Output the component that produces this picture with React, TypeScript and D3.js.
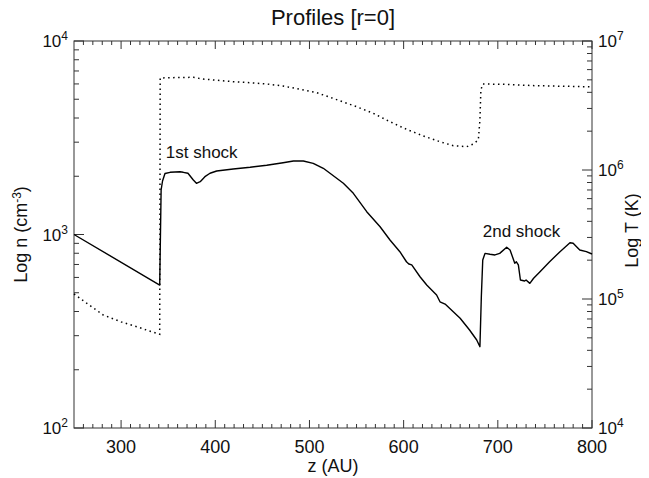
import * as d3 from 'd3';
import { useRef, useEffect } from 'react';

// density profile (left axis, cm^-3)
const densZ = [250, 341, 342.5, 344, 346.6, 352, 362.5, 366, 371, 376.7, 380, 384, 389, 394.4, 401.5, 419, 437, 454.6, 472, 483, 493.5, 504, 514.7, 521.8, 536, 546.6, 560.8, 575, 585.5, 596, 603, 605.5, 608.6, 617.4, 624.5, 635, 638.6, 644, 652.7, 660, 670, 677.6, 681, 682.5, 684, 686.4, 691.7, 697, 702, 709.4, 713, 718, 719.7, 721.8, 724, 728.5, 730, 734, 738, 744.8, 755, 766, 776.6, 780, 787, 794, 800];
const densN = [1000, 548, 1698, 1890, 2067, 2096, 2111, 2096, 2072, 1913, 1839, 1875, 1990, 2072, 2129, 2181, 2225, 2279, 2350, 2398, 2398, 2333, 2199, 2072, 1839, 1633, 1312, 1097, 937, 815, 723, 704, 696, 605, 548, 487, 449, 437, 399, 369, 321, 285, 263, 477, 738, 799, 790, 784, 799, 859, 832, 710, 723, 696, 582, 575, 582, 559, 594, 642, 723, 815, 907, 901, 832, 815, 793];

// temperature profile (right axis, K)
const tempZ = [250, 266, 281, 300, 316.6, 330, 341, 341.5, 360, 376.7, 387, 419, 437, 454.6, 472, 490, 507.7, 525, 539.6, 550, 567.8, 585.5, 603, 621, 638.6, 652.7, 667, 674, 679.3, 681, 682, 684, 706.7, 740, 794, 800];
const tempT = [109400, 90000, 75200, 66500, 61000, 56500, 53260, 5170000, 5210000, 5230000, 5075000, 4836000, 4750000, 4642000, 4480000, 4223000, 3974000, 3596000, 3290000, 3095000, 2751000, 2368000, 2068000, 1835000, 1657000, 1543000, 1516000, 1591000, 1709000, 2441000, 4171000, 4642000, 4617000, 4503000, 4423000, 4400000];

const xTicks = [300, 400, 500, 600, 700, 800];
const nDecades = [2, 3, 4];
const tDecades = [4, 5, 6, 7];

const App = () => {
  const ref = useRef<SVGSVGElement>(null);
  const width = 649;
  const height = 478;
  const margin = { top: 41, right: 57, bottom: 50, left: 74 };

  useEffect(() => {
    const w = width - margin.left - margin.right;
    const h = height - margin.top - margin.bottom;
    const font = 'Liberation Sans, Arial, Helvetica, sans-serif';
    const axisColor = '#333';

    const x = d3.scaleLinear().domain([250, 800]).range([0, w]);
    const yN = d3.scaleLog().domain([100, 10000]).range([h, 0]);
    const yT = d3.scaleLog().domain([1e4, 1e7]).range([h, 0]);

    const root = d3.select(ref.current);
    root.selectAll('*').remove();
    root.append('rect').attr('width', width).attr('height', height).attr('fill', '#fff');

    const svg = root.append('g').attr('transform', `translate(${margin.left},${margin.top})`);

    // frame
    svg.append('rect')
      .attr('width', w)
      .attr('height', h)
      .attr('fill', 'none')
      .attr('stroke', axisColor)
      .attr('stroke-width', 1);

    // x ticks, bottom and top
    const minorX = d3.range(260, 800, 10).filter((v) => v % 100 !== 0);
    const tickG = svg.append('g').attr('stroke', axisColor).attr('stroke-width', 1);
    minorX.forEach((v) => {
      tickG.append('line').attr('x1', x(v)).attr('x2', x(v)).attr('y1', h).attr('y2', h - 4);
      tickG.append('line').attr('x1', x(v)).attr('x2', x(v)).attr('y1', 0).attr('y2', 4);
    });
    xTicks.forEach((v) => {
      tickG.append('line').attr('x1', x(v)).attr('x2', x(v)).attr('y1', h).attr('y2', h - 8);
      tickG.append('line').attr('x1', x(v)).attr('x2', x(v)).attr('y1', 0).attr('y2', 8);
    });

    // y ticks, left (density) and right (temperature)
    const logTicks = (decades: number[]) =>
      decades.slice(0, -1).flatMap((k) => d3.range(2, 10).map((m) => m * Math.pow(10, k)));
    logTicks(nDecades).forEach((v) => {
      tickG.append('line').attr('x1', 0).attr('x2', 5).attr('y1', yN(v)).attr('y2', yN(v));
    });
    nDecades.forEach((k) => {
      const v = Math.pow(10, k);
      tickG.append('line').attr('x1', 0).attr('x2', 10).attr('y1', yN(v)).attr('y2', yN(v));
    });
    logTicks(tDecades).forEach((v) => {
      tickG.append('line').attr('x1', w).attr('x2', w - 5).attr('y1', yT(v)).attr('y2', yT(v));
    });
    tDecades.forEach((k) => {
      const v = Math.pow(10, k);
      tickG.append('line').attr('x1', w).attr('x2', w - 10).attr('y1', yT(v)).attr('y2', yT(v));
    });

    // tick labels
    const labels = svg.append('g').attr('font-family', font).attr('fill', '#111');
    xTicks.forEach((v) => {
      labels.append('text')
        .attr('x', x(v))
        .attr('y', h + 25)
        .attr('text-anchor', 'middle')
        .attr('font-size', 18)
        .text(v);
    });
    const powLabel = (px: number, py: number, k: number, anchor: string) => {
      const t = labels.append('text')
        .attr('x', px)
        .attr('y', py)
        .attr('text-anchor', anchor)
        .attr('font-size', 17);
      t.append('tspan').text('10');
      t.append('tspan').attr('dy', -7).attr('font-size', 12).text(String(k));
    };
    nDecades.forEach((k) => powLabel(-6, yN(Math.pow(10, k)) + 6, k, 'end'));
    tDecades.forEach((k) => powLabel(w + 6, yT(Math.pow(10, k)) + 6, k, 'start'));

    // axis titles
    labels.append('text')
      .attr('x', w / 2)
      .attr('y', h + 44)
      .attr('text-anchor', 'middle')
      .attr('font-size', 18)
      .text('z (AU)');
    const yl = labels.append('text')
      .attr('transform', `translate(${-47},${h / 2}) rotate(-90)`)
      .attr('text-anchor', 'middle')
      .attr('font-size', 18);
    yl.append('tspan').text('Log n (cm');
    yl.append('tspan').attr('dy', -6).attr('font-size', 12).text('-3');
    yl.append('tspan').attr('dy', 6).text(')');
    labels.append('text')
      .attr('transform', `translate(${w + 46},${h / 2 - 4}) rotate(-90)`)
      .attr('text-anchor', 'middle')
      .attr('font-size', 18)
      .text('Log T (K)');

    // title
    labels.append('text')
      .attr('x', w / 2)
      .attr('y', -16)
      .attr('text-anchor', 'middle')
      .attr('font-size', 22)
      .text('Profiles [r=0]');

    // lines
    const dens = densZ.map((z, i) => ({ z, v: densN[i] }));
    const temp = tempZ.map((z, i) => ({ z, v: tempT[i] }));

    const lineN = d3.line<{ z: number; v: number }>()
      .x((d) => x(d.z))
      .y((d) => yN(d.v));
    const lineT = d3.line<{ z: number; v: number }>()
      .x((d) => x(d.z))
      .y((d) => yT(d.v));

    svg.append('path')
      .datum(temp)
      .attr('fill', 'none')
      .attr('stroke', '#000')
      .attr('stroke-width', 1.5)
      .attr('stroke-dasharray', '1.5 3.5')
      .attr('d', lineT);

    svg.append('path')
      .datum(dens)
      .attr('fill', 'none')
      .attr('stroke', '#000')
      .attr('stroke-width', 1.4)
      .attr('stroke-linejoin', 'round')
      .attr('d', lineN);

    // annotations
    labels.append('text')
      .attr('x', x(347.5))
      .attr('y', yN(2480))
      .attr('font-size', 17)
      .text('1st shock');
    labels.append('text')
      .attr('x', x(684))
      .attr('y', yN(975))
      .attr('font-size', 17)
      .text('2nd shock');
  }, []);

  return (
    <div style={{ width, height }}>
      <svg ref={ref} width={width} height={height} style={{ display: 'block', marginLeft: -8, marginTop: -8 }} />
    </div>
  );
};

export default App;
